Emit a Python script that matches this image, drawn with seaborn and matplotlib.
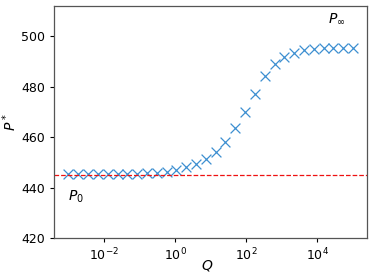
import numpy as np
import matplotlib
matplotlib.use('Agg')
import matplotlib.pyplot as plt
import seaborn as sn
import pandas as pd

# flow rate Q (log spaced) and measured P*
q_values = np.logspace(-3, 5, 30)
p_values = [445.2, 445.2, 445.2, 445.2, 445.2, 445.2, 445.2, 445.2, 445.6, 445.8,
            446.2, 446.9, 448.1, 449.4, 451.4, 454.2, 458.0, 463.5, 469.9, 477.2,
            484.2, 489.0, 491.8, 493.5, 494.6, 495.1, 495.3, 495.4, 495.4, 495.5]
p_zero = 445.0
p_inf = 495.5

df = pd.DataFrame({'Q': q_values, 'P': p_values})

sn.set_style('white')
plt.rcParams['font.family'] = ['DejaVu Sans']
for key in ['text.color', 'axes.labelcolor', 'xtick.color', 'ytick.color']:
    plt.rcParams[key] = 'black'

fig, ax = plt.subplots(figsize=(3.74, 2.8), dpi=100)

sn.scatterplot(data=df, x='Q', y='P', marker='x', s=50, linewidth=0.9,
               color='#3d8fd1', ax=ax)
ax.axhline(p_zero, color='#ee1111', linestyle='--', linewidth=0.9)

ax.set_xscale('log')
ax.set_ylim(420, 512)
ax.set_xlabel('$Q$', fontsize=10)
ax.set_ylabel('$P^*$', fontsize=10)
ax.xaxis.set_label_coords(0.49, -0.088)
ax.yaxis.set_label_coords(-0.112, 0.5)
ax.tick_params(labelsize=9, length=3, width=0.8, bottom=True, left=True)
ax.minorticks_off()
ax.set_xticks([1e-2, 1e0, 1e2, 1e4])

for sp in ax.spines.values():
    sp.set_color('#555555')
    sp.set_linewidth(0.9)

ax.text(10**-2.8, p_zero - 8.5, '$P_0$', fontsize=10, ha='center', va='center')
ax.text(10**4.53, p_inf + 11.3, r'$P_\infty$', fontsize=10, ha='center', va='center')

fig.subplots_adjust(left=0.145, right=0.982, top=0.978, bottom=0.15)
fig.savefig('out.png', dpi=100)
